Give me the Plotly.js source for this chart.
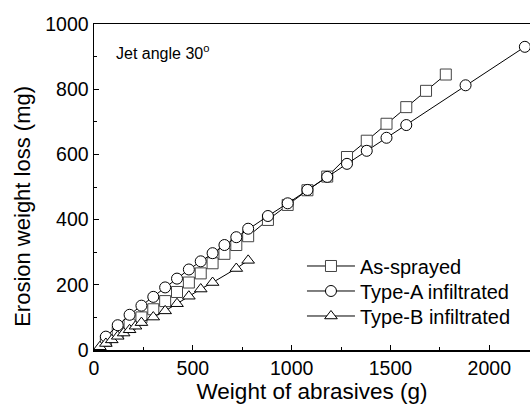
<!DOCTYPE html>
<html>
<head>
<meta charset="utf-8">
<script src="https://cdn.plot.ly/plotly-3.0.1.min.js"></script>
<style>html,body{margin:0;padding:0;background:#fff;}#chart{width:530px;height:407px;}</style>
</head>
<body>
<div id="chart"></div>
<script>
const asSprayedX = [60,120,180,240,300,360,420,480,540,600,660,720,780,880,980,1080,1180,1280,1380,1480,1580,1680,1780];
const asSprayedY = [28,55,78,100,125,150,178,207,235,266,295,322,349,399,445,490,532,592,642,694,745,795,845];
const typeAX = [60,120,180,240,300,360,420,480,540,600,660,720,780,880,980,1080,1180,1280,1380,1480,1580,1880,2180];
const typeAY = [41,76,108,136,163,192,219,247,272,297,322,346,372,411,450,491,531,571,611,651,690,812,930];
const typeBX = [30,60,90,120,150,180,210,240,300,360,420,480,540,600,720,780];
const typeBY = [10,20,31,42,52,62,73,84,101,120,142,165,187,207,250,275];
const seriesNames = ['As-sprayed','Type-A infiltrated','Type-B infiltrated'];
const xTitle = 'Weight of abrasives (g)';
const yTitle = 'Erosion weight loss (mg)';
const note = 'Jet angle 30<sup>o</sup>';

const font = 'Liberation Sans, Arial, sans-serif';
function tr(x, y, name, symbol, lc, lg) {
  return {x: x, y: y, name: name, type: 'scatter', mode: 'lines+markers', legend: lg,
    line: {color: '#000', width: 1},
    marker: {symbol: symbol, size: 11, color: '#fff', line: {color: lc, width: 1}}};
}
const data = [
  tr(asSprayedX, asSprayedY, seriesNames[0], 'square', '#444', 'legend'),
  tr(typeAX, typeAY, seriesNames[1], 'circle', '#000', 'legend2'),
  tr(typeBX, typeBY, seriesNames[2], 'triangle-up', '#000', 'legend3')
];
function lg(y) {
  return {x: 0.477, y: y, xanchor: 'left', yanchor: 'middle', bgcolor: 'rgba(0,0,0,0)',
    font: {size: 20, family: font}, itemwidth: 48};
}
const layout = {
  width: 530, height: 407,
  margin: {l: 94, r: 0, t: 24, b: 57},
  paper_bgcolor: '#fff', plot_bgcolor: '#fff',
  font: {family: font, color: '#000', size: 19},
  showlegend: true,
  legend: lg(0.2577), legend2: lg(0.181), legend3: lg(0.1043),
  xaxis: {range: [0, 2206], dtick: 500, tick0: 0, ticks: 'inside', ticklen: 5, tickwidth: 1,
    tickcolor: '#000', showline: true, linecolor: '#000', linewidth: 1.5, mirror: true,
    showgrid: false, zeroline: false, tickfont: {size: 19.5},
    minor: {dtick: 250, ticks: 'inside', ticklen: 3, tickcolor: '#000', showgrid: false},
    title: {text: xTitle, font: {size: 22.5}, standoff: 2}},
  yaxis: {range: [0, 1000], dtick: 200, tick0: 0, ticks: 'inside', ticklen: 5, tickwidth: 1,
    tickcolor: '#000', showline: true, linecolor: '#000', linewidth: 1.5,
    showgrid: false, zeroline: false, tickfont: {size: 19.5},
    minor: {dtick: 100, ticks: 'inside', ticklen: 3, tickcolor: '#000', showgrid: false}},
  annotations: [
    {text: note, xref: 'paper', yref: 'paper', x: 0.045, y: 0.915,
      xanchor: 'left', yanchor: 'middle', showarrow: false, font: {size: 16, family: font}},
    {text: yTitle, xref: 'paper', yref: 'paper', x: -0.163, y: 0.442, textangle: -90,
      xanchor: 'center', yanchor: 'middle', showarrow: false, font: {size: 22, family: font}}
  ]
};
Plotly.newPlot('chart', data, layout, {displayModeBar: false, staticPlot: true});
</script>
</body>
</html>
